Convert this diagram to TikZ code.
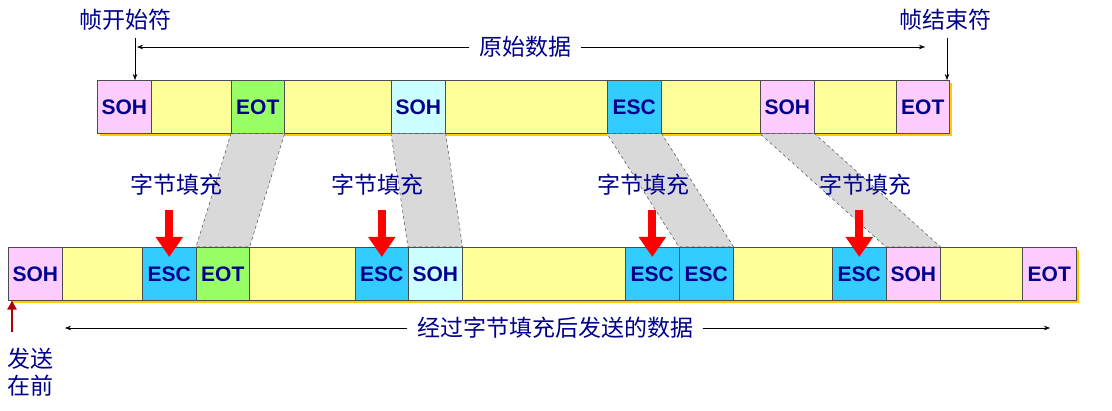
\documentclass[tikz,border=0pt]{standalone}
\usepackage{fontspec}
\setmainfont{Liberation Sans}
\newfontfamily\cjk{Noto Sans CJK SC}
\usetikzlibrary{arrows.meta}
\definecolor{txt}{RGB}{0,0,140}
\definecolor{cpink}{RGB}{255,204,255}
\definecolor{cyel}{RGB}{255,255,153}
\definecolor{cgreen}{RGB}{153,255,102}
\definecolor{ccyan}{RGB}{204,255,255}
\definecolor{cesc}{RGB}{51,204,255}
\definecolor{cshadow}{RGB}{255,204,0}
\tikzset{
 cellbox/.style={draw=black!70,line width=0.6pt,inner sep=0pt,anchor=north west,font=\bfseries\fontsize{21}{21}\selectfont,text=txt,minimum height=53pt},
 lbl/.style={font=\cjk\fontsize{23}{23}\selectfont,text=txt},
 band/.style={draw=black!70,dashed,fill=black!15,line width=0.5pt},
 redarr/.style={-{Triangle[width=26pt,length=20pt]},red,line width=8pt},
 thin/.style={-{Stealth[length=6pt]},line width=0.5pt}
}
\begin{document}
\begin{tikzpicture}[x=1pt,y=-1pt]
\useasboundingbox (0,0) rectangle (1112,411);
% shadows
\fill[cshadow] (100,83) rectangle (952,136);
\fill[cshadow] (11,250) rectangle (1079,303);
% top bar
\foreach \n/\a/\b/\c/\t in {t1/97/151/cpink/SOH,t2/151/231/cyel/,t3/231/284/cgreen/EOT,t4/284/391/cyel/,t5/391/445/ccyan/SOH,t6/445/607/cyel/,t7/607/661/cesc/ESC,t8/661/760/cyel/,t9/760/814/cpink/SOH,t10/814/896/cyel/,t11/896/949/cpink/EOT}
 {\pgfmathsetmacro\w{\b-\a}\node[cellbox,fill=\c,minimum width=\w pt] (\n) at (\a,80) {\t};}
% bottom bar
\foreach \n/\a/\b/\c/\t in {b1/8/62/cpink/SOH,b2/62/142/cyel/,b3/142/196/cesc/ESC,b4/196/249/cgreen/EOT,b5/249/355/cyel/,b6/355/408/cesc/ESC,b7/408/462/ccyan/SOH,b8/462/625/cyel/,b9/625/679/cesc/ESC,b10/679/733/cesc/ESC,b11/733/832/cyel/,b12/832/886/cesc/ESC,b13/886/940/cpink/SOH,b14/940/1022/cyel/,b15/1022/1076/cpink/EOT}
 {\pgfmathsetmacro\w{\b-\a}\node[cellbox,fill=\c,minimum width=\w pt] (\n) at (\a,247) {\t};}
% bands
\foreach \u/\l in {t3/b4,t5/b7,t7/b10,t9/b13}
 \draw[band] (\u.south west) -- (\u.south east) -- (\l.north east) -- (\l.north west) -- cycle;
% labels
\foreach \n/\x in {s1/176,s2/377,s3/643,s4/865}
 \node[lbl] (\n) at (\x,185) {字节填充};
\foreach \e in {b3,b6,b9,b12}
 {\coordinate (\e top) at ([yshift=37pt]\e.north); \draw[redarr] (\e top) -- ([yshift=-10pt]\e.north);}
% top annotations
\node[lbl] (fs) at (125,20) {帧开始符};
\node[lbl] (fe) at (945,20) {帧结束符};
\node[lbl] (raw) at (525,47) {原始数据};
\coordinate (fsa) at (135,38); \coordinate (fea) at (947,38);
\draw[thin] (fsa) -- (t1.north -| fsa);
\draw[thin] (fea) -- (t11.north -| fea);
\coordinate (rl) at (137,47); \coordinate (rr) at (925,47);
\draw[thin] ([xshift=-6pt]raw.west) -- (rl); \draw[thin] ([xshift=6pt]raw.east) -- (rr);
% bottom annotations
\node[lbl] (sent) at (555,328) {经过字节填充后发送的数据};
\coordinate (sl) at (65,328); \coordinate (sr) at (1050,328);
\draw[thin] ([xshift=-6pt]sent.west) -- (sl); \draw[thin] ([xshift=6pt]sent.east) -- (sr);
\node[lbl,align=center,font=\cjk\fontsize{23}{27}\selectfont] (first) at (30,372) {发送\\在前};
\coordinate (fa) at (12,332);
\draw[-{Triangle[width=9pt,length=9pt]},red!70!black,line width=2.5pt] (fa) -- (fa |- b1.south);
\end{tikzpicture}
\end{document}
